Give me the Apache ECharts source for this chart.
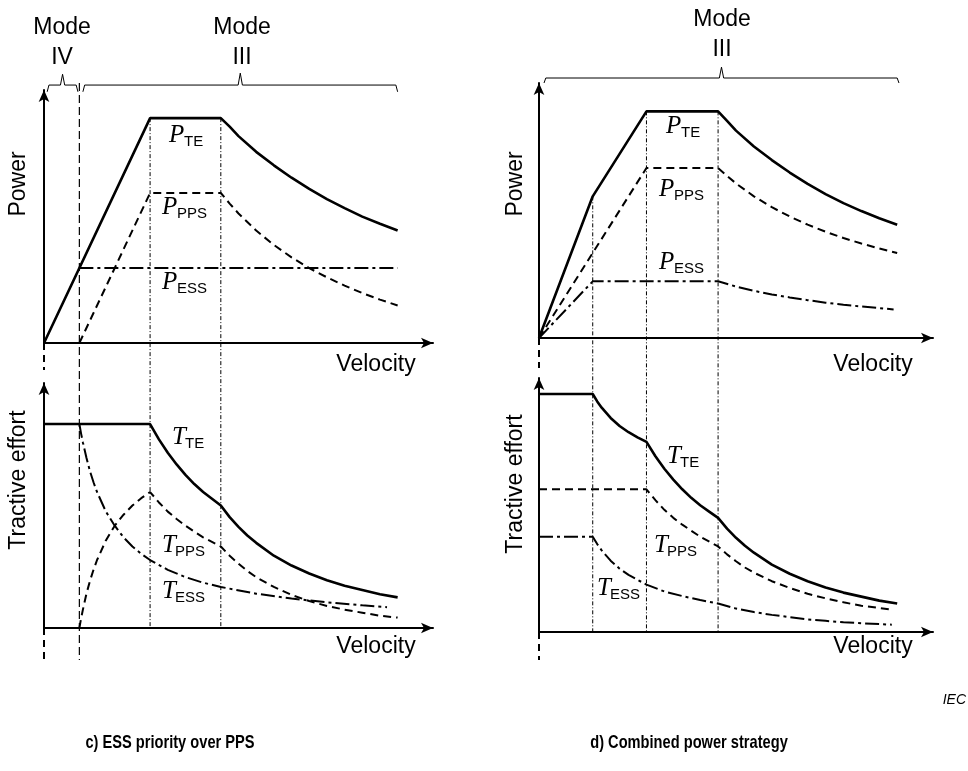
<!DOCTYPE html>
<html>
<head>
<meta charset="utf-8">
<script src="https://cdn.jsdelivr.net/npm/echarts@6/dist/echarts.min.js"></script>
<style>
html,body{margin:0;padding:0;background:#fff;}
#chart{width:968px;height:771px;}
</style>
</head>
<body>
<div id="chart"></div>
<script>
// ---------- data (velocity / value pairs) ----------
// c) ESS priority over PPS – power
const cPteVel = [0, 3, 5, 5.25, 5.5, 6, 6.5, 7, 7.5, 8, 8.5, 9, 9.5, 10];
const cPteVal = [0, 10, 10, 9.62, 9.2, 8.5, 7.9, 7.35, 6.85, 6.4, 6.0, 5.62, 5.3, 5.0];
const cPppsVel = [1, 3, 5, 5.25, 5.5, 6, 6.5, 7, 7.5, 8, 8.5, 9, 9.5, 10];
const cPppsVal = [0, 6.67, 6.67, 6.2, 5.76, 5.0, 4.36, 3.81, 3.33, 2.92, 2.55, 2.22, 1.93, 1.67];
const cPessVel = [1, 10];
const cPessVal = [3.33, 3.33];
// c) – tractive effort
const cTteVel = [0, 3, 3.25, 3.5, 3.75, 4, 4.25, 4.5, 4.75, 5, 5.25, 5.5, 5.75, 6, 6.5, 7, 7.5, 8, 8.5, 9, 9.5, 10];
const cTteVal = [3.33, 3.33, 3.08, 2.86, 2.67, 2.5, 2.35, 2.22, 2.11, 2.0, 1.81, 1.65, 1.51, 1.39, 1.18, 1.02, 0.89, 0.78, 0.69, 0.62, 0.55, 0.5];
const cTppsVel = [1, 1.05, 1.1, 1.2, 1.3, 1.4, 1.5, 1.75, 2, 2.25, 2.5, 2.75, 3, 3.25, 3.5, 3.75, 4, 4.5, 5, 5.25, 5.5, 5.75, 6, 6.5, 7, 7.5, 8, 8.5, 9, 9.5, 10];
const cTppsVal = [0, 0.16, 0.30, 0.56, 0.77, 0.95, 1.11, 1.43, 1.67, 1.85, 2.0, 2.12, 2.22, 2.05, 1.90, 1.78, 1.67, 1.48, 1.33, 1.18, 1.05, 0.93, 0.83, 0.67, 0.54, 0.44, 0.36, 0.30, 0.25, 0.20, 0.17];
const cTessVel = [1, 1.05, 1.1, 1.2, 1.3, 1.4, 1.5, 1.75, 2, 2.25, 2.5, 2.75, 3, 3.5, 4, 4.5, 5, 6, 7, 8, 9, 9.7];
const cTessVal = [3.33, 3.17, 3.03, 2.78, 2.56, 2.38, 2.22, 1.90, 1.67, 1.48, 1.33, 1.21, 1.11, 0.95, 0.83, 0.74, 0.67, 0.56, 0.48, 0.42, 0.37, 0.34];
// d) Combined power strategy – power
const dPteVel = [0, 1.5, 3, 5, 5.25, 5.5, 6, 6.5, 7, 7.5, 8, 8.5, 9, 9.5, 10];
const dPteVal = [0, 6.25, 10, 10, 9.58, 9.15, 8.45, 7.85, 7.3, 6.8, 6.35, 5.95, 5.6, 5.28, 5.0];
const dPppsVel = [0, 3, 5, 5.25, 5.5, 6, 6.5, 7, 7.5, 8, 8.5, 9, 9.5, 10];
const dPppsVal = [0, 7.5, 7.5, 7.15, 6.82, 6.25, 5.77, 5.36, 5.0, 4.69, 4.41, 4.17, 3.95, 3.75];
const dPessVel = [0, 1.5, 5, 5.5, 6, 6.5, 7, 7.5, 8, 8.5, 9, 9.5, 9.9];
const dPessVal = [0, 2.5, 2.5, 2.27, 2.08, 1.92, 1.79, 1.67, 1.56, 1.47, 1.39, 1.32, 1.26];
// d) – tractive effort
const dTteVel = [0, 1.5, 1.625, 1.75, 2, 2.25, 2.5, 2.75, 3, 3.25, 3.5, 3.75, 4, 4.25, 4.5, 4.75, 5, 5.25, 5.5, 5.75, 6, 6.5, 7, 7.5, 8, 8.5, 9, 9.5, 10];
const dTteVal = [4.17, 4.17, 4.04, 3.93, 3.75, 3.61, 3.5, 3.41, 3.33, 3.08, 2.86, 2.67, 2.5, 2.35, 2.22, 2.11, 2.0, 1.81, 1.65, 1.51, 1.39, 1.18, 1.02, 0.89, 0.78, 0.69, 0.62, 0.55, 0.5];
const dTppsVel = [0, 3, 3.25, 3.5, 3.75, 4, 4.5, 5, 5.25, 5.5, 5.75, 6, 6.5, 7, 7.5, 8, 8.5, 9, 9.5, 9.85];
const dTppsVal = [2.5, 2.5, 2.31, 2.14, 2.0, 1.88, 1.67, 1.5, 1.36, 1.24, 1.13, 1.04, 0.89, 0.77, 0.67, 0.59, 0.52, 0.46, 0.42, 0.39];
const dTessVel = [0, 1.5, 1.625, 1.75, 2, 2.25, 2.5, 3, 3.5, 4, 4.5, 5, 5.5, 6, 6.5, 7, 7.5, 8, 8.5, 9, 9.5, 9.85];
const dTessVal = [1.67, 1.67, 1.54, 1.43, 1.25, 1.11, 1.0, 0.83, 0.71, 0.63, 0.56, 0.5, 0.41, 0.35, 0.30, 0.26, 0.22, 0.195, 0.17, 0.154, 0.139, 0.129];
// operating-point guide lines (velocity, power at top of guide)
const cGuideVel = [3, 5];
const cGuideTop = [10, 10];
const cModeBoundaryVel = 1;
const dGuideVel = [1.5, 3, 5];
const dGuideTop = [6.25, 10, 10];
// mode brackets (velocity extents)
const cModeIV = [0.09, 0.96];
const cModeIII = [1.1, 10.0];
const dModeIII = [0.14, 10.05];

// ---------- layout ----------
const G = [
  {left: 44, top: 90, width: 389, height: 253, ymax: 11.25},   // c power
  {left: 44, top: 383, width: 389, height: 245, ymax: 4},      // c tractive
  {left: 539, top: 83, width: 394, height: 255, ymax: 11.25},  // d power
  {left: 539, top: 378, width: 394, height: 254, ymax: 4.45}   // d tractive
];
const XMAX = 11;
function pxToY(gi, px) { // pixel distance below the x axis -> data units (negative)
  return -px * G[gi].ymax / G[gi].height;
}
const zip = (a, b) => a.map((v, i) => [v, b[i]]);

const axisLineStyle = {color: '#000', width: 2};
const grid = G.map(g => ({left: g.left, top: g.top, width: g.width, height: g.height, containLabel: false}));
const xAxis = G.map((g, i) => ({
  type: 'value', gridIndex: i, min: 0, max: XMAX,
  axisLine: {show: true, onZero: false, lineStyle: axisLineStyle, symbol: ['none', 'arrow'], symbolSize: [8, 12]},
  axisTick: {show: false}, axisLabel: {show: false}, splitLine: {show: false}
}));
const yAxis = G.map((g, i) => ({
  type: 'value', gridIndex: i, min: 0, max: g.ymax,
  axisLine: {show: true, onZero: false, lineStyle: axisLineStyle, symbol: ['none', 'arrow'], symbolSize: [8, 12]},
  axisTick: {show: false}, axisLabel: {show: false}, splitLine: {show: false}
}));

const SOLID = {color: '#000', width: 2.6, type: 'solid'};
const DASH = {color: '#000', width: 2, type: [8, 5]};
const DASHDOT = {color: '#000', width: 2, type: [14, 4, 3, 4]};
const GUIDE = {color: '#000', width: 1, type: [4, 2, 1, 2]};
const LONGDASH = {color: '#000', width: 1.2, type: [8, 4]};
const AXDASH = {color: '#000', width: 2, type: [7, 5]};
const BRACKET = {color: '#000', width: 1, type: 'solid'};

function line(gi, data, style, extra) {
  return Object.assign({
    type: 'line', xAxisIndex: gi, yAxisIndex: gi, data: data, symbol: 'none',
    lineStyle: style, silent: true, animation: false, clip: false, z: 3
  }, extra || {});
}

const series = [];
// curves
series.push(line(0, zip(cPteVel, cPteVal), SOLID));
series.push(line(0, zip(cPppsVel, cPppsVal), DASH));
series.push(line(0, zip(cPessVel, cPessVal), DASHDOT));
series.push(line(1, zip(cTteVel, cTteVal), SOLID));
series.push(line(1, zip(cTppsVel, cTppsVal), DASH));
series.push(line(1, zip(cTessVel, cTessVal), DASHDOT));
series.push(line(2, zip(dPteVel, dPteVal), SOLID));
series.push(line(2, zip(dPppsVel, dPppsVal), DASH));
series.push(line(2, zip(dPessVel, dPessVal), DASHDOT));
series.push(line(3, zip(dTteVel, dTteVal), SOLID));
series.push(line(3, zip(dTppsVel, dTppsVal), DASH));
series.push(line(3, zip(dTessVel, dTessVal), DASHDOT));

// guide lines: from the curve in the power panel down to the tractive panel's x axis
const cDrop = pxToY(0, (G[1].top + G[1].height) - (G[0].top + G[0].height));
cGuideVel.forEach((v, i) => series.push(line(0, [[v, cGuideTop[i]], [v, cDrop]], GUIDE, {z: 1})));
const dDrop = pxToY(2, (G[3].top + G[3].height) - (G[2].top + G[2].height));
dGuideVel.forEach((v, i) => series.push(line(2, [[v, dGuideTop[i]], [v, dDrop]], GUIDE, {z: 1})));
// mode IV / III boundary (long dashes)
series.push(line(0, [[cModeBoundaryVel, 11.56], [cModeBoundaryVel, pxToY(0, 317)]], LONGDASH, {z: 1}));
// dashed continuation of the vertical axes below each origin
series.push(line(0, [[0, 0], [0, pxToY(0, 27)]], AXDASH));
series.push(line(1, [[0, 0], [0, pxToY(1, 32)]], AXDASH));
series.push(line(2, [[0, 0], [0, pxToY(2, 30)]], AXDASH));
series.push(line(3, [[0, 0], [0, pxToY(3, 28)]], AXDASH));

// brackets
function bracket(gi, ext, y, hook, tip) {
  const c = (ext[0] + ext[1]) / 2;
  return line(gi, [[ext[0], y - hook], [ext[0] + 0.05, y], [c - 0.06, y], [c, y + tip], [c + 0.06, y], [ext[1] - 0.05, y], [ext[1], y - hook]], BRACKET);
}
series.push(bracket(0, cModeIV, 11.47, 0.3, 0.48));
series.push(bracket(0, cModeIII, 11.47, 0.3, 0.53));
series.push(bracket(2, dModeIII, 11.47, 0.22, 0.48));

// ---------- text ----------
const AX_FONT = '23px "Liberation Sans", Arial, sans-serif';
function txt(x, y, text, opts) {
  const el = {type: 'text', x: x, y: y, silent: true,
    style: Object.assign({text: text, font: AX_FONT, fill: '#000', align: 'center', verticalAlign: 'middle'}, (opts && opts.style) || {})};
  if (opts && opts.rotation) el.rotation = opts.rotation;
  if (opts && opts.scaleX) el.scaleX = opts.scaleX;
  return el;
}
const MAIN_FONT = 'italic 25px "Liberation Serif", "Times New Roman", serif';
const SUB_FONT = '15px "Liberation Sans", Arial, sans-serif';
function sym(x, y, main, sub) {
  const dx = main === 'P' ? 15 : 13;
  return [
    txt(x, y, main, {style: {font: MAIN_FONT, align: 'left'}}),
    txt(x + dx, y + 7, sub, {style: {font: SUB_FONT, align: 'left'}})
  ];
}

const CAP_FONT = 'bold 19px "Liberation Sans", Arial, sans-serif';
const graphic = [
  txt(62, 28, 'Mode'), txt(62, 58, 'IV'),
  txt(242, 28, 'Mode'), txt(242, 58, 'III'),
  txt(722, 20, 'Mode'), txt(722, 50, 'III'),
  txt(19, 184, 'Power', {rotation: Math.PI / 2}),
  txt(19, 480, 'Tractive effort', {rotation: Math.PI / 2}),
  txt(516, 184, 'Power', {rotation: Math.PI / 2}),
  txt(516, 484, 'Tractive effort', {rotation: Math.PI / 2}),
  txt(376, 365, 'Velocity'), txt(376, 647, 'Velocity'),
  txt(873, 365, 'Velocity'), txt(873, 647, 'Velocity'),
  ...sym(169, 135, 'P', 'TE'), ...sym(162, 207, 'P', 'PPS'), ...sym(162, 282, 'P', 'ESS'),
  ...sym(172, 437, 'T', 'TE'), ...sym(162, 545, 'T', 'PPS'), ...sym(162, 591, 'T', 'ESS'),
  ...sym(666, 126, 'P', 'TE'), ...sym(659, 189, 'P', 'PPS'), ...sym(659, 262, 'P', 'ESS'),
  ...sym(667, 456, 'T', 'TE'), ...sym(654, 545, 'T', 'PPS'), ...sym(597, 588, 'T', 'ESS'),
  txt(966, 700, 'IEC', {style: {font: 'italic 14px "Liberation Sans", Arial, sans-serif', align: 'right'}}),
  txt(170, 743, 'c) ESS priority over PPS', {scaleX: 0.77, style: {font: CAP_FONT}}),
  txt(689, 743, 'd) Combined power strategy', {scaleX: 0.77, style: {font: CAP_FONT}})
];

const chart = echarts.init(document.getElementById('chart'), null, {renderer: 'canvas'});
chart.setOption({
  animation: false,
  backgroundColor: '#fff',
  grid: grid, xAxis: xAxis, yAxis: yAxis,
  series: series,
  graphic: graphic
});
</script>
</body>
</html>
